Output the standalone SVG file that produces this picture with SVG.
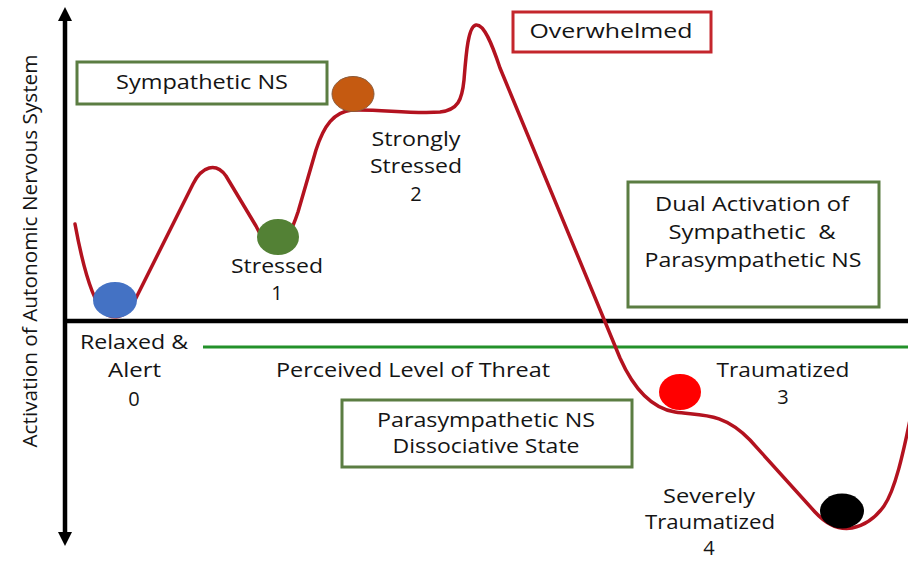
<svg xmlns="http://www.w3.org/2000/svg" width="908" height="562" viewBox="0 0 908 562">
  <style>
    text { font-family: "Open Sans", "Liberation Sans", sans-serif; font-size: 20px; fill: #141414; text-anchor: middle; }
    .box-green { fill: #ffffff; stroke: #5b7d42; stroke-width: 3; }
    .box-red { fill: #ffffff; stroke: #c4262c; stroke-width: 3; }
    .axis { stroke: #000000; stroke-width: 4.5; fill: none; }
    .head { fill: #000000; }
    .threat { stroke: #23912a; stroke-width: 3; fill: none; }
    .curve { stroke: #b3121f; stroke-width: 3.5; fill: none; stroke-linejoin: round; stroke-linecap: round; }
  </style>
  <rect width="908" height="562" fill="#ffffff"/>

  <!-- axes and the threat-level line -->
  <g id="axes">
    <line class="axis" x1="65" y1="18" x2="65" y2="535" stroke-width="4"/>
    <polygon class="head" points="65,7 58,21 72,21"/>
    <polygon class="head" points="65,546 58,532 72,532"/>
    <line class="axis" x1="63" y1="321" x2="908" y2="321"/>
    <line class="threat" x1="203" y1="347" x2="908" y2="347"/>
    <text transform="translate(37,251) rotate(-90)" font-size="20.5" textLength="393" lengthAdjust="spacingAndGlyphs">Activation of Autonomic Nervous System</text>
    <text x="413" y="377" textLength="274" lengthAdjust="spacingAndGlyphs">Perceived Level of Threat</text>
  </g>

  <!-- activation landscape -->
  <g id="connectors">
    <path class="curve" d="M75,224 C82,262 92,300 104,312 C112,320 124,318 132,306 L193,184 C202,166 216,162 226,176 L256,226 C262,238 266,245 274,246 C285,247 292,230 298,212 L316,150 C324,125 334,112 352,110 C380,109 410,114 440,112 C458,110 462,100 464,80 C466,55 468,26 476,25 C484,24 492,44 500,68 L620,358 C632,385 650,408 675,412 C700,416 722,411 750,440 L815,512 C828,526 840,530 852,528 C862,526 874,520 884,506 C895,490 903,455 912,410"/>
  </g>

  <!-- region boxes -->
  <g id="sympathetic-box">
    <rect class="box-green" x="77" y="62" width="250" height="42"/>
    <text x="202" y="89" textLength="172" lengthAdjust="spacingAndGlyphs">Sympathetic NS</text>
  </g>
  <g id="overwhelmed-box">
    <rect class="box-red" x="513" y="12" width="198" height="40"/>
    <text x="611" y="38" textLength="163" lengthAdjust="spacingAndGlyphs">Overwhelmed</text>
  </g>
  <g id="dual-activation-box">
    <rect class="box-green" x="628" y="182" width="251" height="125"/>
    <text x="752" y="211" textLength="194" lengthAdjust="spacingAndGlyphs">Dual Activation of</text>
    <text x="752" y="239" textLength="167" lengthAdjust="spacingAndGlyphs" xml:space="preserve">Sympathetic  &amp;</text>
    <text x="753" y="267" textLength="217" lengthAdjust="spacingAndGlyphs">Parasympathetic NS</text>
  </g>
  <g id="parasympathetic-box">
    <rect class="box-green" x="342" y="400" width="290" height="67"/>
    <text x="486" y="427" textLength="218" lengthAdjust="spacingAndGlyphs">Parasympathetic NS</text>
    <text x="486" y="453" textLength="187" lengthAdjust="spacingAndGlyphs">Dissociative State</text>
  </g>

  <!-- states -->
  <g id="state-0">
    <ellipse cx="115" cy="300" rx="22" ry="18" fill="#4472c4"/>
    <text x="134" y="349" textLength="108" lengthAdjust="spacingAndGlyphs">Relaxed &amp;</text>
    <text x="134.5" y="377" textLength="53" lengthAdjust="spacingAndGlyphs">Alert</text>
    <text x="134" y="406">0</text>
  </g>
  <g id="state-1">
    <ellipse cx="278" cy="237" rx="21" ry="18" fill="#538135"/>
    <text x="277" y="273" textLength="92" lengthAdjust="spacingAndGlyphs">Stressed</text>
    <text x="277" y="300">1</text>
  </g>
  <g id="state-2">
    <ellipse cx="353" cy="94" rx="21" ry="17.5" fill="#c55a11" stroke="#8a5a3a" stroke-width="1"/>
    <text x="416" y="146" textLength="89" lengthAdjust="spacingAndGlyphs">Strongly</text>
    <text x="416" y="173" textLength="92" lengthAdjust="spacingAndGlyphs">Stressed</text>
    <text x="416" y="201">2</text>
  </g>
  <g id="state-3">
    <ellipse cx="680" cy="392" rx="21" ry="18" fill="#ff0000"/>
    <text x="783" y="377" textLength="133" lengthAdjust="spacingAndGlyphs">Traumatized</text>
    <text x="783" y="404">3</text>
  </g>
  <g id="state-4">
    <ellipse cx="842" cy="511" rx="22" ry="17.5" fill="#000000"/>
    <text x="709" y="503" textLength="92" lengthAdjust="spacingAndGlyphs">Severely</text>
    <text x="710" y="529" textLength="130" lengthAdjust="spacingAndGlyphs">Traumatized</text>
    <text x="709" y="555">4</text>
  </g>
</svg>
